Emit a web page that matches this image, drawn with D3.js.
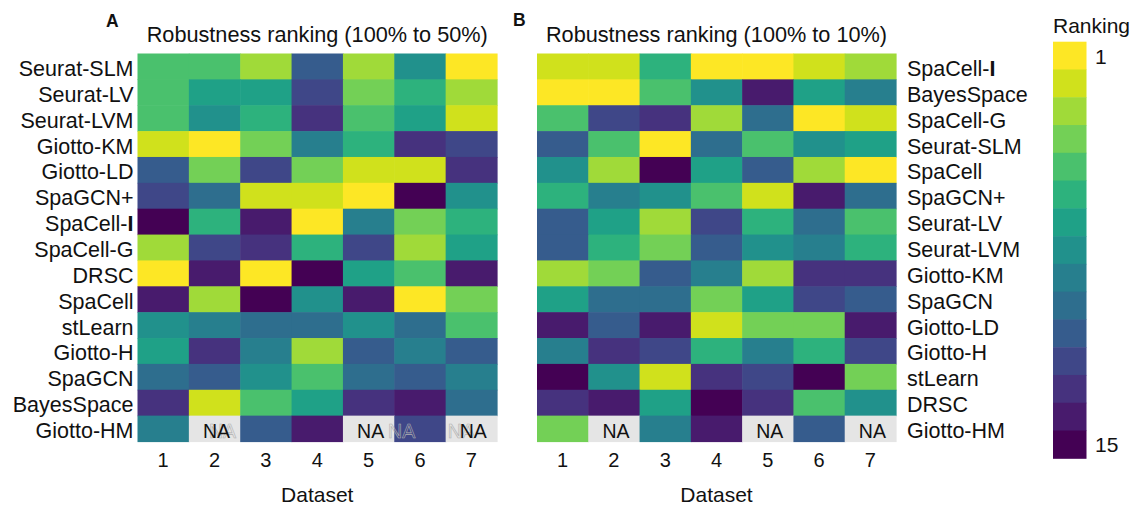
<!DOCTYPE html>
<html>
<head>
<meta charset="utf-8">
<script src="https://cdn.jsdelivr.net/npm/d3@7"></script>
<style>
  body { margin: 0; background: #fff; }
  svg { display: block; font-family: "Liberation Sans", Arial, sans-serif; }
</style>
</head>
<body>
<svg id="chart" width="1137" height="506"></svg>
<script>
// rankings (1 = best, null = NA)
const datasets = ["1", "2", "3", "4", "5", "6", "7"];

const methodsA = ["Seurat-SLM", "Seurat-LV", "Seurat-LVM", "Giotto-KM", "Giotto-LD", "SpaGCN+",
  "SpaCell-I", "SpaCell-G", "DRSC", "SpaCell", "stLearn", "Giotto-H", "SpaGCN", "BayesSpace", "Giotto-HM"];
const ranksA = [
  [5, 5, 3, 11, 3, 8, 1],
  [5, 7, 7, 12, 4, 6, 3],
  [5, 8, 6, 13, 5, 7, 2],
  [2, 1, 4, 9, 6, 13, 12],
  [11, 4, 12, 4, 2, 2, 13],
  [12, 10, 2, 2, 1, 15, 8],
  [15, 6, 14, 1, 9, 4, 6],
  [3, 12, 13, 6, 12, 3, 7],
  [1, 14, 1, 15, 7, 5, 14],
  [14, 3, 15, 8, 14, 1, 4],
  [8, 9, 10, 10, 8, 10, 5],
  [7, 13, 9, 3, 11, 9, 11],
  [10, 11, 8, 5, 10, 11, 9],
  [13, 2, 5, 7, 13, 14, 10],
  [9, null, 11, 14, null, 12, null]
];

const methodsB = ["SpaCell-I", "BayesSpace", "SpaCell-G", "Seurat-SLM", "SpaCell", "SpaGCN+",
  "Seurat-LV", "Seurat-LVM", "Giotto-KM", "SpaGCN", "Giotto-LD", "Giotto-H", "stLearn", "DRSC", "Giotto-HM"];
const ranksB = [
  [2, 2, 6, 1, 1, 2, 3],
  [1, 1, 5, 8, 14, 7, 9],
  [5, 12, 13, 3, 10, 1, 2],
  [11, 5, 1, 10, 5, 8, 7],
  [8, 3, 15, 7, 11, 3, 1],
  [6, 9, 8, 5, 2, 14, 10],
  [11, 7, 3, 12, 6, 10, 5],
  [11, 6, 4, 11, 8, 9, 6],
  [3, 4, 11, 9, 3, 13, 13],
  [7, 10, 10, 4, 7, 12, 11],
  [14, 11, 14, 2, 4, 4, 14],
  [9, 13, 12, 6, 9, 6, 12],
  [15, 8, 2, 13, 12, 15, 4],
  [13, 14, 7, 15, 13, 5, 8],
  [4, null, 9, 14, null, 11, null]
];

const legendRanks = d3.range(1, 16);
const legendTicks = [1, 15];

const color = r => d3.interpolateViridis((15 - r) / 14);
const svg = d3.select("#chart");
const FONT = 21.5;

function boldI(sel) {
  // the trailing "I" of SpaCell-I is drawn heavier in the figure
  sel.filter(d => /-I$/.test(d)).each(function(d) {
    const t = d3.select(this).text(d.slice(0, -1));
    t.append("tspan").attr("font-weight", "bold").text("I");
  });
}

function drawPanel(o) {
  const g = svg.append("g");
  const x = d3.scaleBand().domain(datasets).range([o.x0, o.x1]);
  const y = d3.scaleBand().domain(o.methods).range([53.5, 441.5]);

  const cells = o.methods.flatMap((m, i) => datasets.map((d, j) => ({ m, d, r: o.ranks[i][j] })));

  g.selectAll("rect.cell").data(cells).join("rect")
    .attr("class", "cell")
    .attr("x", c => x(c.d)).attr("y", c => y(c.m))
    .attr("width", x.bandwidth() + 0.6).attr("height", y.bandwidth() + 0.6)
    .attr("fill", c => c.r == null ? "#e5e5e5" : color(c.r));

  const na = cells.filter(c => c.r == null);

  if (o.ghosts) {
    // faint outlined "NA" copies visible in panel A
    g.selectAll("text.ghost").data(na).join("text")
      .attr("class", "ghost")
      .attr("x", (c, i) => x(c.d) + x.bandwidth() / 2 + 2 + o.ghosts[i])
      .attr("y", c => y(c.m) + y.bandwidth() / 2 + 9)
      .attr("text-anchor", "middle").attr("font-size", 19.5)
      .attr("fill", "none").attr("stroke", "#b0b0b0").attr("stroke-width", 0.6)
      .text("NA");
  }

  g.selectAll("text.na").data(na).join("text")
    .attr("class", "na")
    .attr("x", c => x(c.d) + x.bandwidth() / 2 + 2)
    .attr("y", c => y(c.m) + y.bandwidth() / 2 + 9)
    .attr("text-anchor", "middle").attr("font-size", 19.5).attr("fill", "#111")
    .text("NA");

  // dataset ticks
  g.append("g")
    .attr("transform", "translate(0,467)")
    .call(d3.axisBottom(x).tickSize(0).tickPadding(0))
    .call(a => a.select(".domain").remove())
    .call(a => a.attr("font-family", null).attr("font-size", 20))
    .call(a => a.selectAll("text").attr("y", 0).attr("dy", null).attr("fill", "#111"));

  // method labels
  const axis = o.labelsRight ? d3.axisRight(y) : d3.axisLeft(y);
  g.append("g")
    .attr("transform", `translate(${o.labelX},0)`)
    .call(axis.tickSize(0).tickPadding(0))
    .call(a => a.select(".domain").remove())
    .call(a => a.attr("font-family", null).attr("font-size", FONT))
    .call(a => a.selectAll("text").attr("x", 0).attr("y", 9.5).attr("dy", null).attr("fill", "#111").call(boldI));

  const cx = (o.x0 + o.x1) / 2;
  g.append("text").attr("x", cx).attr("y", 42).attr("text-anchor", "middle")
    .attr("font-size", 21.7).attr("fill", "#111").text(o.title);
  g.append("text").attr("x", cx).attr("y", 501.5).attr("text-anchor", "middle")
    .attr("font-size", 21).attr("fill", "#111").text("Dataset");
  g.append("text").attr("x", o.tagX).attr("y", o.tagY)
    .attr("font-size", 17.5).attr("font-weight", "bold").attr("fill", "#111").text(o.tag);
}

drawPanel({
  methods: methodsA, ranks: ranksA, x0: 137.5, x1: 497, labelX: 133.5,
  title: "Robustness ranking (100% to 50%)", tag: "A", tagX: 106, tagY: 26.5,
  ghosts: [6, 31, -12]
});
drawPanel({
  methods: methodsB, ranks: ranksB, x0: 537, x1: 896, labelX: 907, labelsRight: true,
  title: "Robustness ranking (100% to 10%)", tag: "B", tagX: 513, tagY: 25.5
});

// legend
const yL = d3.scaleBand().domain(legendRanks).range([41.7, 458.3]);
const leg = svg.append("g");
leg.selectAll("rect").data(legendRanks).join("rect")
  .attr("x", 1053).attr("y", d => yL(d))
  .attr("width", 33.5).attr("height", yL.bandwidth() + 0.5)
  .attr("fill", d => color(d));
leg.append("g")
  .attr("transform", "translate(1095,0)")
  .call(d3.axisRight(yL).tickValues(legendTicks).tickSize(0).tickPadding(0))
  .call(a => a.select(".domain").remove())
  .call(a => a.attr("font-family", null).attr("font-size", 21))
  .call(a => a.selectAll("text").attr("x", 0).attr("y", 8).attr("dy", null).attr("fill", "#111"));
leg.append("text").attr("x", 1053).attr("y", 33).attr("font-size", 21).attr("fill", "#111").text("Ranking");
</script>
</body>
</html>
